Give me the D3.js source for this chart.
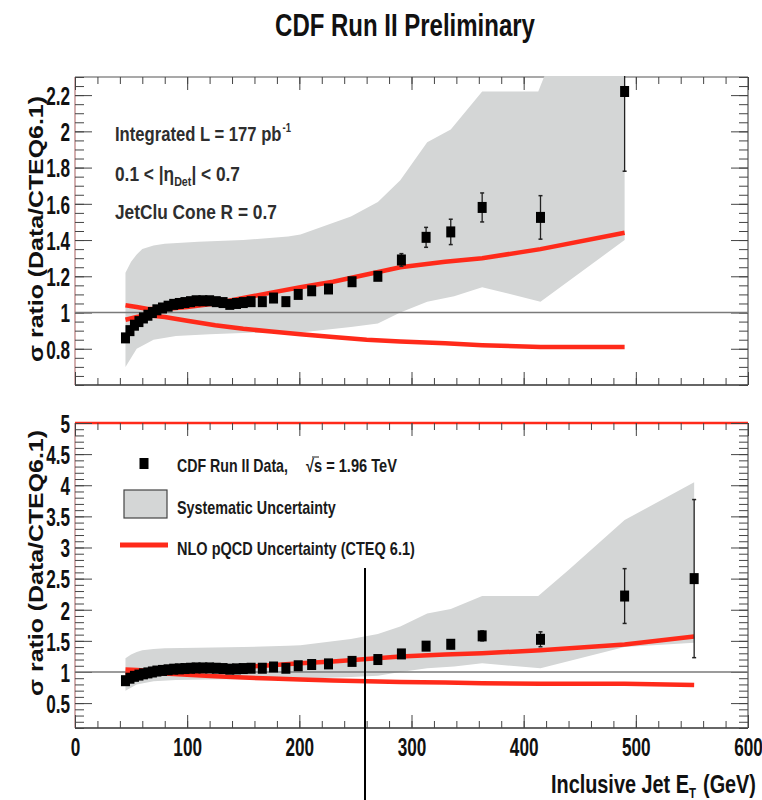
<!DOCTYPE html>
<html><head><meta charset="utf-8">
<script src="https://cdn.jsdelivr.net/npm/d3@7"></script>
<style>
html,body{margin:0;padding:0;background:#fff;}
svg{display:block;}
text{font-family:"Liberation Sans",Arial,Helvetica,sans-serif;font-weight:bold;}
</style></head><body>
<svg id="chart" width="762" height="800"></svg>
<script>
// ---------------- data ----------------
const etBins = [45,49,53,57,61,65,69,73,78,83,88,93,98,103,108,114,120,126,132,138,144,150,157,167,177,188,199,211,226,247,270,291,313,335,363,415,490,552];
const ratio  = [0.86,0.90,0.93,0.95,0.97,0.985,1.00,1.015,1.025,1.035,1.045,1.05,1.055,1.06,1.065,1.065,1.065,1.06,1.055,1.045,1.05,1.055,1.06,1.06,1.08,1.06,1.10,1.12,1.13,1.17,1.20,1.29,1.415,1.445,1.58,1.525,2.22,2.50];
const ratioErr = [0.01,0.01,0.01,0.01,0.01,0.01,0.01,0.01,0.01,0.01,0.01,0.01,0.01,0.01,0.01,0.01,0.01,0.01,0.01,0.01,0.012,0.012,0.012,0.014,0.015,0.016,0.018,0.02,0.02,0.025,0.03,0.035,0.055,0.07,0.08,0.12,0.44,1.27];

const sysUpEt = [45,50,55,60,70,80,110,150,190,201,246,270,290,314,335,363,413,440,490,552];
const sysUp   = [1.22,1.28,1.32,1.35,1.37,1.38,1.39,1.40,1.42,1.43,1.53,1.61,1.73,1.94,2.01,2.22,2.22,2.64,3.44,4.05];
const sysLoEt = [45,55,70,90,120,165,201,246,270,290,314,338,363,415,490,552];
const sysLo   = [0.70,0.80,0.85,0.87,0.88,0.89,0.89,0.92,0.94,1.00,1.06,1.09,1.14,1.06,1.40,1.47];

const nloEt = [45,55,65,80,100,125,150,175,201,230,260,290,330,363,415,490,552];
const nloUp = [1.04,1.03,1.02,1.02,1.03,1.05,1.08,1.11,1.14,1.17,1.21,1.25,1.28,1.30,1.35,1.44,1.57];
const nloLo = [0.96,0.975,0.985,0.975,0.955,0.93,0.91,0.895,0.88,0.865,0.85,0.84,0.83,0.82,0.81,0.81,0.79];

const xTicks = [0,100,200,300,400,500,600];
const xTickLabels = ["0","100","200","300","400","500","600"];
const topYTicks = [0.8,1,1.2,1.4,1.6,1.8,2,2.2];
const topYTickLabels = ["0.8","1","1.2","1.4","1.6","1.8","2","2.2"];
const botYTicks = [0.5,1,1.5,2,2.5,3,3.5,4,4.5,5];
const botYTickLabels = ["0.5","1","1.5","2","2.5","3","3.5","4","4.5","5"];

const titleText = "CDF Run II Preliminary";
const yTitleText = "σ ratio (Data/CTEQ6.1)";
const topPanelLastEt = 490;   // last bin shown in the upper (zoomed) panel
const botPanelLastEt = 552;

// ---------------- layout ----------------
const svg = d3.select("#chart");
const RED = "#ff2a1a", BAND = "#d4d6d6";
const xL = 75, xR = 748;
const x = d3.scaleLinear().domain([0,600]).range([xL, xR]);

// horizontally condense a text around its anchor x (narrow-font look)
function condense(sel, target){
  sel.each(function(){
    const t = d3.select(this);
    const w = this.getComputedTextLength();
    const tl = (typeof target === "function") ? target(w, this) : target;
    const f = tl / w;
    const ax = parseFloat(this.getAttribute("x") || 0);
    const prev = this.getAttribute("transform") || "";
    t.attr("transform", `${prev} translate(${ax},0) scale(${f},1) translate(${-ax},0)`);
  });
}
// a run of separate text pieces (for sub/superscripts), scaled to a total width
function seqText(x0, y0, parts, total, anchor, fill){
  const nodes = parts.map(p => svg.append("text").attr("x",0).attr("y", y0 + (p.dy||0))
      .attr("font-size", p.size).attr("fill", fill).text(p.t));
  const widths = nodes.map(n => n.node().getComputedTextLength());
  const gaps = d3.sum(parts, p => p.gap||0);
  const f = (total - gaps) / d3.sum(widths);
  let xc = anchor === "end" ? x0 - total : x0;
  nodes.forEach((n,i) => {
    const w = widths[i]*f;
    n.attr("x", xc).attr("transform", `translate(${xc},0) scale(${f},1) translate(${-xc},0)`);
    xc += w + (parts[i].gap||0);
  });
}

const panels = [
  {name:"top", y:d3.scaleLinear().domain([0.6,2.3]).range([385,77]), lastEt:topPanelLastEt,
   yTicks:topYTicks, yLabels:topYTickLabels, minorStep:0.05, xLabels:false, yTitleCy:229},
  {name:"bot", y:d3.scaleLinear().domain([0.1,5]).range([728,423]), lastEt:botPanelLastEt,
   yTicks:botYTicks, yLabels:botYTickLabels, minorStep:0.1, xLabels:true, yTitleCy:563}
];

panels.forEach(p => {
  const y = p.y;
  const yT = y.range()[1], yB = y.range()[0];
  const g = svg.append("g");
  const clipId = "clip-"+p.name;
  svg.append("clipPath").attr("id", clipId).append("rect")
    .attr("x", xL).attr("y", yT-1).attr("width", xR-xL).attr("height", yB-yT+1);

  // frame
  g.append("line").attr("x1",xL).attr("x2",xR).attr("y1",yT).attr("y2",yT).attr("stroke", p.name==="bot"?RED:"#555").attr("stroke-width", p.name==="bot"?2.5:1.2);
  g.append("line").attr("x1",xL).attr("x2",xR).attr("y1",yB).attr("y2",yB).attr("stroke","#333").attr("stroke-width",1.4);
  g.append("line").attr("x1",xR).attr("x2",xR).attr("y1",yT).attr("y2",yB).attr("stroke","#555").attr("stroke-width",1.2);
  g.append("line").attr("x1",xL).attr("x2",xL).attr("y1",yT).attr("y2",yB).attr("stroke","#c99a9a").attr("stroke-width",1.6);

  // ticks via d3 axes
  const minorY = d3.range(y.domain()[0], y.domain()[1]+1e-9, p.minorStep);
  const minorX = d3.range(0, 600.1, 20);
  const styleAxis = a => { a.select(".domain").remove(); a.selectAll(".tick line").attr("stroke","#444").attr("stroke-width",1); };
  // left
  const aLmin = g.append("g").attr("transform",`translate(${xL},0)`).call(d3.axisLeft(y).tickValues(minorY).tickSize(-9).tickFormat(""));
  styleAxis(aLmin);
  const aL = g.append("g").attr("transform",`translate(${xL},0)`).call(d3.axisLeft(y).tickValues(p.yTicks).tickSize(-17).tickPadding(5).tickFormat((d,i)=>p.yLabels[i]));
  styleAxis(aL);
  aL.selectAll("text").attr("font-size",26).attr("fill","#111").attr("dy","0.36em");
  condense(aL.selectAll("text"), w => w*0.66);
  // right
  const aRmin = g.append("g").attr("transform",`translate(${xR},0)`).call(d3.axisRight(y).tickValues(minorY).tickSize(-9).tickFormat(""));
  styleAxis(aRmin);
  const aR = g.append("g").attr("transform",`translate(${xR},0)`).call(d3.axisRight(y).tickValues(p.yTicks).tickSize(-17).tickFormat(""));
  styleAxis(aR);
  // bottom
  const aBmin = g.append("g").attr("transform",`translate(0,${yB})`).call(d3.axisBottom(x).tickValues(minorX).tickSize(-7).tickFormat(""));
  styleAxis(aBmin);
  const aB = g.append("g").attr("transform",`translate(0,${yB})`).call(d3.axisBottom(x).tickValues(xTicks).tickSize(-13).tickPadding(10)
      .tickFormat((d,i)=> p.xLabels ? xTickLabels[i] : ""));
  styleAxis(aB);
  aB.selectAll("text").attr("font-size",26).attr("fill","#111").attr("dy","0.71em");
  condense(aB.selectAll("text"), w => w*0.66);
  // top
  const aTmin = g.append("g").attr("transform",`translate(0,${yT})`).call(d3.axisTop(x).tickValues(minorX).tickSize(-7).tickFormat(""));
  styleAxis(aTmin);
  const aT = g.append("g").attr("transform",`translate(0,${yT})`).call(d3.axisTop(x).tickValues(xTicks).tickSize(-13).tickFormat(""));
  styleAxis(aT);

  const plot = svg.append("g").attr("clip-path",`url(#${clipId})`);
  // systematic band
  const up = sysUpEt.map((e,i)=>[e,sysUp[i]]).filter(d=>d[0]<=p.lastEt);
  const lo = sysLoEt.map((e,i)=>[e,sysLo[i]]).filter(d=>d[0]<=p.lastEt);
  const poly = up.concat(lo.slice().reverse());
  plot.append("path").attr("d", d3.line().x(d=>x(d[0])).y(d=>y(d[1]))(poly)+"Z").attr("fill",BAND);

  // line at ratio 1
  plot.append("line").attr("x1",xL).attr("x2",xR).attr("y1",y(1)).attr("y2",y(1)).attr("stroke","#7a7a7a").attr("stroke-width",1.6);

  // NLO uncertainty curves
  const line = d3.line().x(d=>x(d[0])).y(d=>y(d[1]));
  [nloUp, nloLo].forEach(arr => {
    const pts = nloEt.map((e,i)=>[e,arr[i]]).filter(d=>d[0]<=p.lastEt);
    plot.append("path").attr("d", line(pts)).attr("fill","none").attr("stroke",RED).attr("stroke-width",4.5);
  });

  // data points with error bars
  const pts = etBins.map((e,i)=>({e, v:ratio[i], err:ratioErr[i]}))
    .filter(d=>d.e<=p.lastEt && d.v>=y.domain()[0] && d.v<=y.domain()[1]);
  const pg = plot.append("g");
  pts.forEach(d => {
    const cx = x(d.e);
    if (d.err > 0.03) {
      pg.append("line").attr("x1",cx).attr("x2",cx).attr("y1",y(d.v-d.err)).attr("y2",y(d.v+d.err)).attr("stroke","#222").attr("stroke-width",1.3);
      [d.v-d.err, d.v+d.err].forEach(v => pg.append("line").attr("x1",cx-2).attr("x2",cx+2).attr("y1",y(v)).attr("y2",y(v)).attr("stroke","#222").attr("stroke-width",1.5));
    }
    pg.append("rect").attr("x",cx-4.5).attr("y",y(d.v)-5.5).attr("width",9).attr("height",11).attr("fill","#000");
  });

  // y-axis title
  const yt = svg.append("text").attr("transform",`translate(43,${p.yTitleCy}) rotate(-90)`)
    .attr("text-anchor","middle").attr("font-size",21).attr("fill","#111").text(yTitleText);
  condense(yt, 266);
});

// title
const tt = svg.append("text").attr("x",405).attr("y",36).attr("text-anchor","middle").attr("font-size",32).attr("fill","#111").text(titleText);
condense(tt, 260);

// x-axis title: Inclusive Jet E_T (GeV)
seqText(756, 793, [
  {t:"Inclusive Jet E", size:26},
  {t:"T", size:15, dy:5, gap:7},
  {t:"(GeV)", size:26}
], 205, "end", "#111");

// annotations (top panel)
const annColor = "#2e2e2e";
seqText(115, 141, [
  {t:"Integrated L = 177 pb", size:21, gap:1},
  {t:"-1", size:12, dy:-9}
], 176, "start", annColor);
seqText(115, 181, [
  {t:"0.1 < |η", size:21},
  {t:"Det", size:13, dy:5},
  {t:"| < 0.7", size:21}
], 125, "start", annColor);
const a3 = svg.append("text").attr("x",115).attr("y",219).attr("font-size",21).attr("fill",annColor).text("JetClu Cone R = 0.7");
condense(a3, 162);

// legend (bottom panel)
const legColor = "#1a1a1a";
svg.append("rect").attr("x",139.5).attr("y",458).attr("width",9).attr("height",11).attr("fill","#000");
const l1 = svg.append("text").attr("x",177).attr("y",472).attr("font-size",18).attr("fill",legColor).text("CDF Run II Data,");
condense(l1, 111);
const l1b = svg.append("text").attr("x",306).attr("y",472).attr("font-size",18).attr("fill",legColor).text("√s = 1.96 TeV");
condense(l1b, 91);
svg.append("line").attr("x1",312).attr("x2",319).attr("y1",457).attr("y2",457).attr("stroke",legColor).attr("stroke-width",1);
svg.append("rect").attr("x",124).attr("y",490).attr("width",43).attr("height",28).attr("fill",BAND).attr("stroke","#444").attr("stroke-width",1.2);
const l2 = svg.append("text").attr("x",177).attr("y",514).attr("font-size",18).attr("fill",legColor).text("Systematic Uncertainty");
condense(l2, 159);
svg.append("line").attr("x1",120).attr("x2",168).attr("y1",545).attr("y2",545).attr("stroke",RED).attr("stroke-width",5);
const l3 = svg.append("text").attr("x",177).attr("y",555).attr("font-size",18).attr("fill",legColor).text("NLO pQCD Uncertainty (CTEQ 6.1)");
condense(l3, 238);

// stray vertical marker line present in the original figure
svg.append("line").attr("x1",365).attr("x2",365).attr("y1",568).attr("y2",800).attr("stroke","#000").attr("stroke-width",2);
</script>
</body></html>
